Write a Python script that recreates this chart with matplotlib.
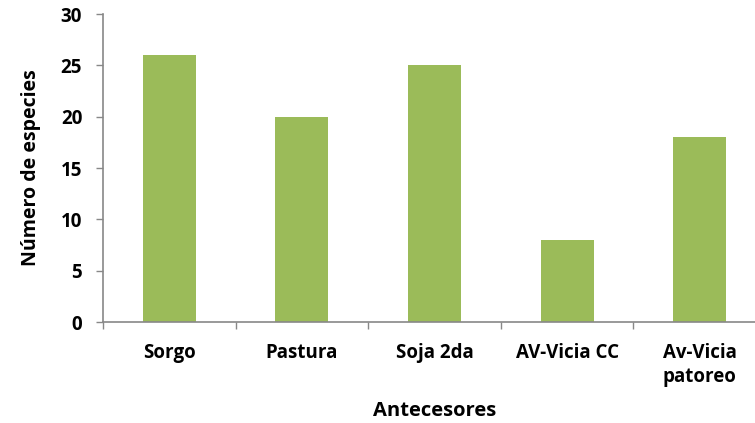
import numpy as np
import matplotlib.pyplot as plt

categorias = ['Sorgo', 'Pastura', 'Soja 2da', 'AV-Vicia CC', 'Av-Vicia\npatoreo']
especies = [26, 20, 25, 8, 18]

plt.rcParams['font.family'] = ['Open Sans', 'DejaVu Sans']
plt.rcParams['font.weight'] = 'bold'

fig = plt.figure(figsize=(7.55, 4.23), dpi=100)
ax = fig.add_axes([103/755, 1 - 322/423, 663/755, 308/423])

x = np.arange(len(categorias))
ax.bar(x, especies, width=0.4, color='#9BBB59')

ax.set_xlim(-0.5, len(categorias) - 0.5)
ax.set_ylim(0, 30)
ax.set_yticks(np.arange(0, 31, 5))

# category names centred, tick marks on the boundaries
ax.set_xticks(x)
ax.set_xticklabels(categorias, fontsize=13.5, fontweight='bold', linespacing=1.3)
ax.set_xticks(np.arange(-0.5, len(categorias)), minor=True)
ax.tick_params(axis='x', which='major', length=0, pad=15)
ax.tick_params(axis='x', which='minor', length=5, color='#888888', width=1)
ax.tick_params(axis='y', length=5, color='#888888', width=1, labelsize=13.5, pad=10)
for lbl in ax.get_yticklabels():
    lbl.set_fontweight('bold')

for s in ['top', 'right']:
    ax.spines[s].set_visible(False)
for s in ['left', 'bottom']:
    ax.spines[s].set_color('#888888')
    ax.spines[s].set_linewidth(1.2)

ax.set_xlabel('Antecesores', fontsize=14.5, fontweight='bold', labelpad=10)
ax.set_ylabel('Número de especies', fontsize=14, fontweight='bold', labelpad=14)

fig.savefig('out.png', dpi=100)
